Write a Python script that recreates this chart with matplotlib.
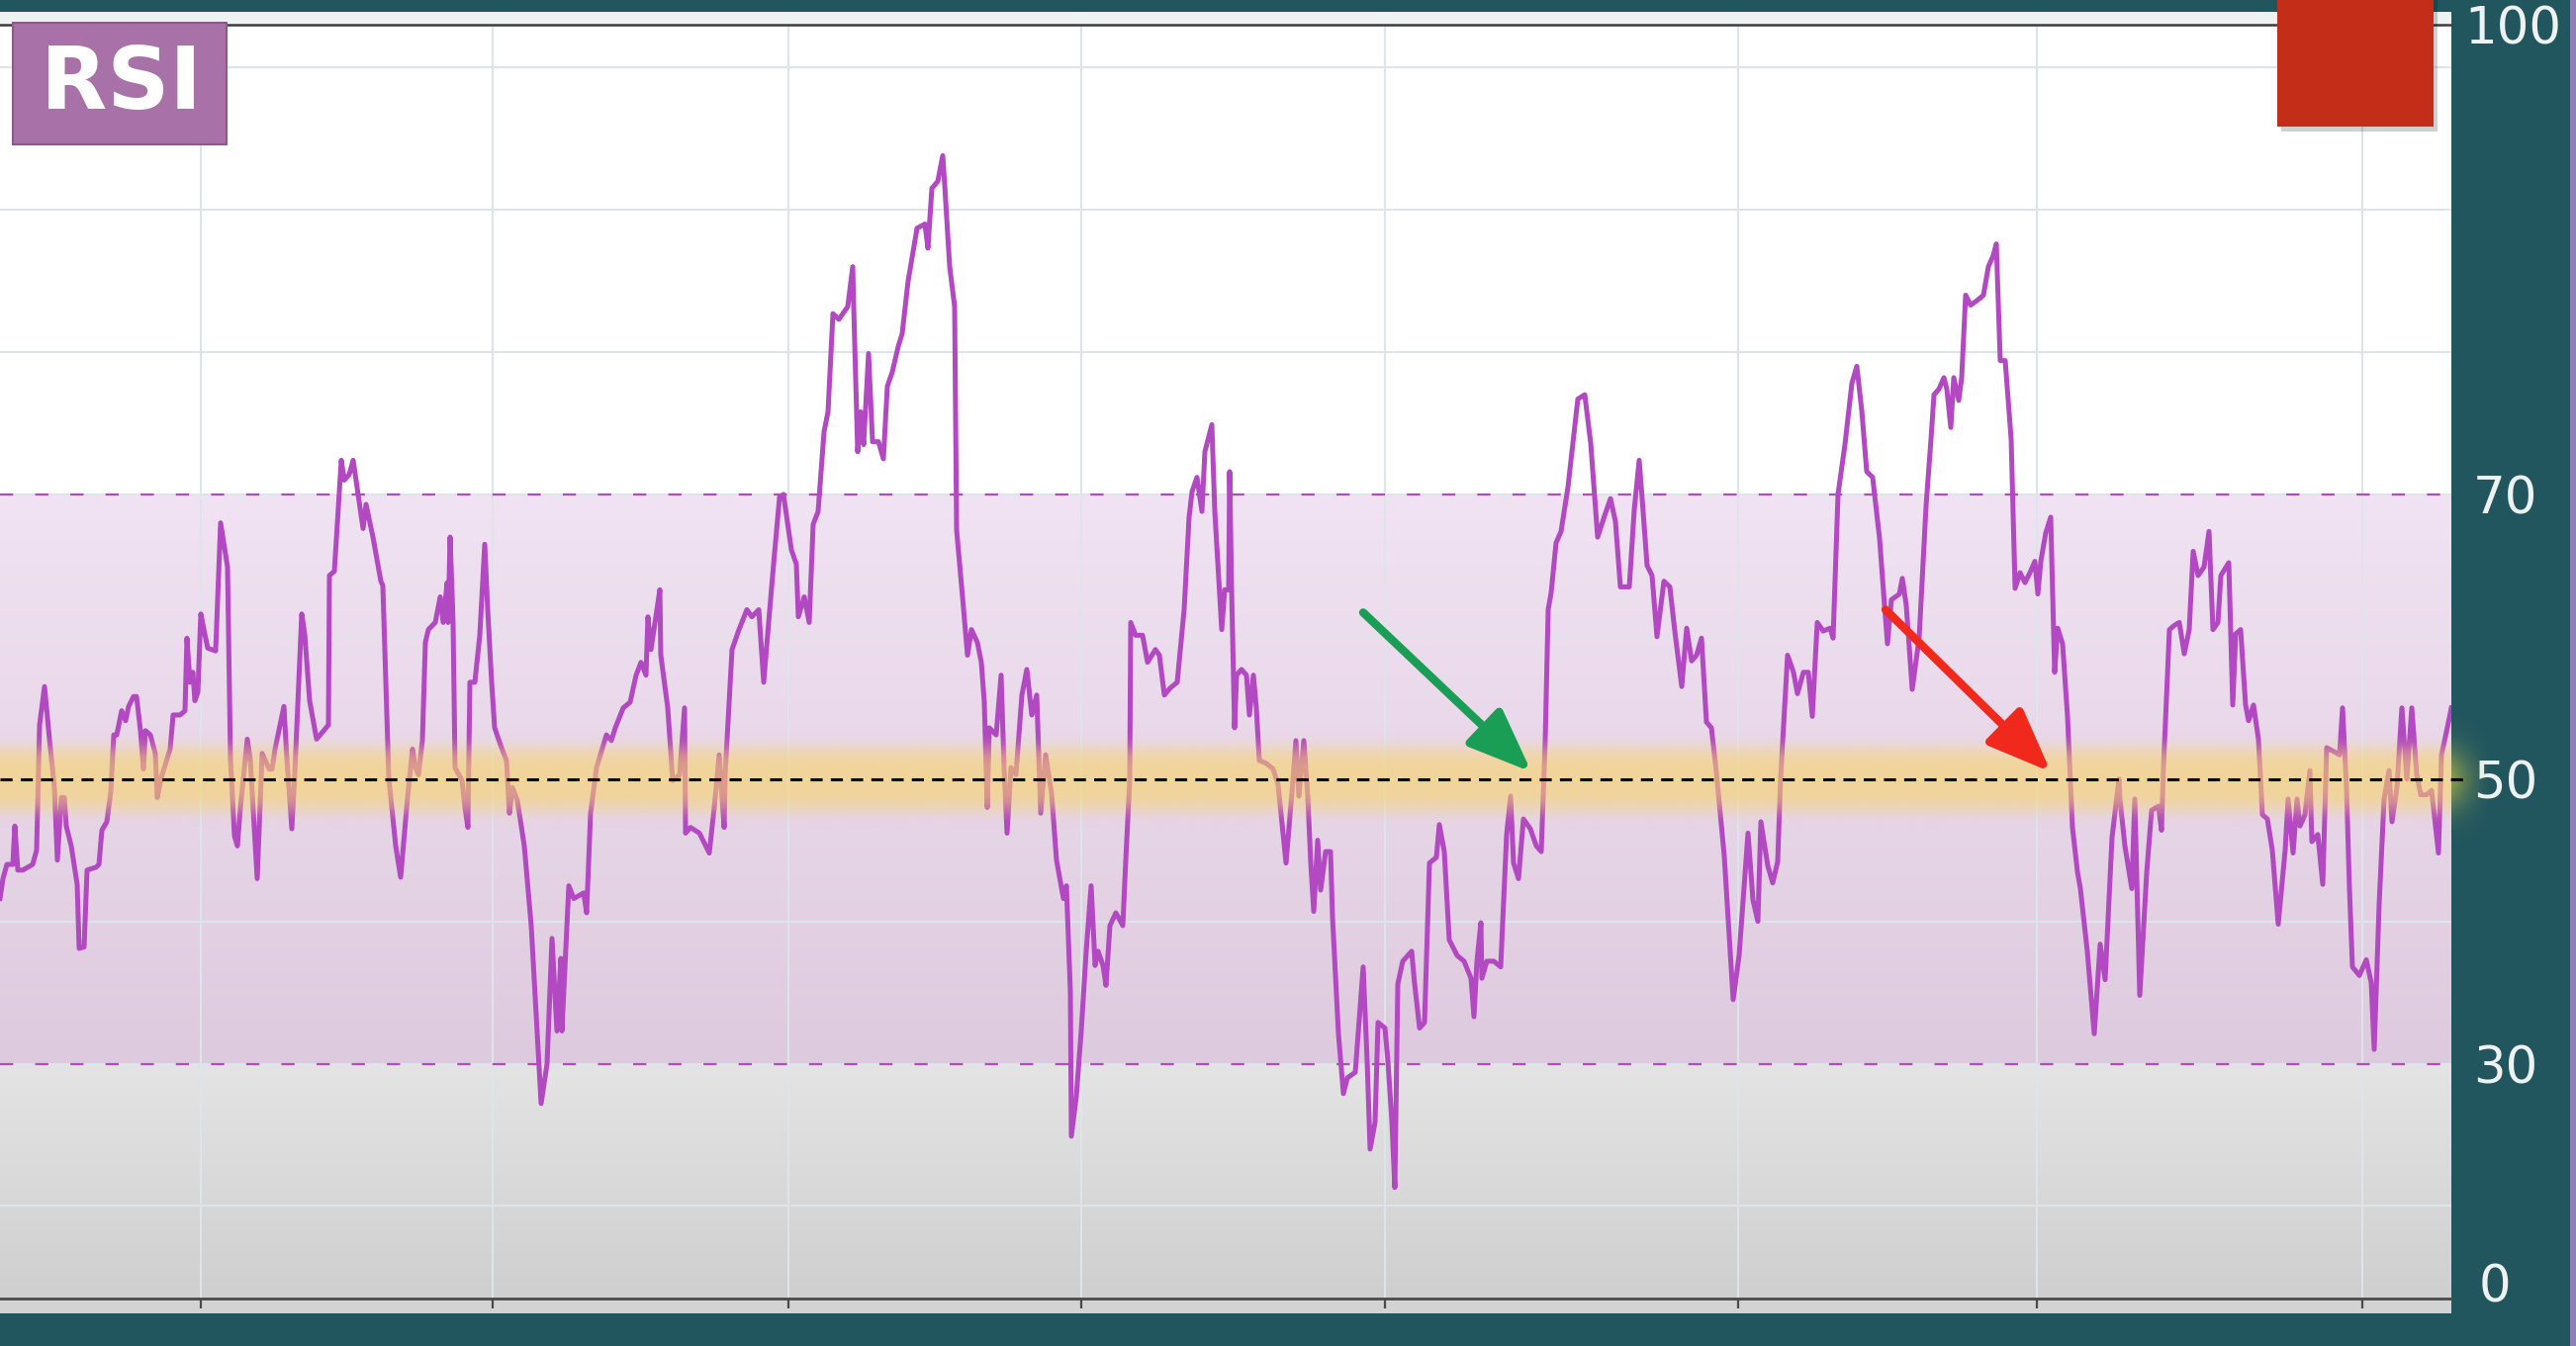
import numpy as np
import matplotlib.pyplot as plt
from matplotlib.patches import Rectangle
from matplotlib.colors import to_rgb

# RSI readings (x = bar position on the time axis, y = RSI value)
bar = [0, 3, 7, 13, 15, 18, 23, 33, 37, 40, 45, 50, 55, 58, 62, 65, 67, 72, 78, 80,
       85, 88, 97, 100, 103, 108, 112, 115, 118, 123, 127, 130, 135, 138, 142, 145, 147, 152, 157, 159,
       163, 172, 175, 182, 187, 189, 192, 195, 197, 200, 203, 207, 210, 218, 223, 230, 233, 237, 240, 243,
       250, 253, 260, 265, 272, 275, 278, 287, 290, 295, 298, 302, 305, 308, 313, 320, 332, 333, 338, 345,
       348, 353, 357, 362, 367, 370, 377, 385, 387, 393, 400, 405, 412, 417, 420, 423, 427, 430, 433, 440,
       445, 448, 452, 453, 455, 458, 460, 467, 470, 473, 475, 480, 485, 490, 493, 497, 500, 507, 512, 515,
       518, 523, 530, 537, 547, 553, 558, 563, 567, 568, 575, 580, 590, 593, 597, 603, 613, 618, 622, 630,
       637, 643, 648, 653, 655, 658, 663, 667, 668, 675, 680, 687, 692, 693, 698, 707, 717, 722, 727, 732,
       733, 740, 747, 755, 760, 767, 772, 777, 782, 788, 792, 800, 805, 807, 813, 818, 822, 827, 833, 837,
       842, 848, 857, 862, 863, 867, 870, 873, 878, 882, 888, 893, 897, 902, 908, 912, 918, 927, 935, 938,
       942, 948, 953, 955, 960, 965, 967, 973, 978, 982, 988, 992, 995, 998, 1000, 1007, 1012, 1015, 1018, 1022,
       1027, 1033, 1038, 1043, 1048, 1052, 1057, 1063, 1068, 1075, 1078, 1082, 1083, 1088, 1093, 1098, 1103, 1107, 1110, 1115,
       1118, 1122, 1128, 1135, 1138, 1142, 1143, 1148, 1155, 1160, 1168, 1172, 1177, 1183, 1190, 1197, 1202, 1205, 1210, 1215,
       1218, 1225, 1228, 1233, 1235, 1238, 1242, 1243, 1245, 1248, 1250, 1255, 1260, 1263, 1267, 1270, 1273, 1280, 1287, 1292,
       1300, 1307, 1310, 1313, 1318, 1322, 1325, 1328, 1332, 1335, 1340, 1345, 1347, 1353, 1358, 1362, 1370, 1378, 1382, 1385,
       1390, 1393, 1400, 1403, 1407, 1410, 1413, 1418, 1427, 1430, 1435, 1440, 1445, 1452, 1455, 1460, 1465, 1473, 1480, 1487,
       1490, 1493, 1497, 1498, 1503, 1510, 1517, 1523, 1527, 1530, 1535, 1540, 1547, 1553, 1558, 1562, 1565, 1568, 1573, 1578,
       1585, 1595, 1602, 1608, 1615, 1622, 1628, 1633, 1638, 1647, 1652, 1657, 1660, 1665, 1670, 1675, 1682, 1688, 1693, 1700,
       1705, 1710, 1715, 1720, 1725, 1730, 1735, 1743, 1752, 1758, 1767, 1772, 1777, 1780, 1787, 1792, 1797, 1800, 1807, 1813,
       1817, 1823, 1828, 1832, 1837, 1843, 1850, 1853, 1858, 1865, 1872, 1877, 1882, 1887, 1893, 1900, 1905, 1908, 1912, 1920,
       1923, 1927, 1933, 1940, 1947, 1952, 1955, 1960, 1965, 1968, 1972, 1975, 1980, 1983, 1987, 1992, 2000, 2005, 2010, 2015,
       2018, 2022, 2027, 2033, 2037, 2042, 2047, 2052, 2057, 2060, 2063, 2068, 2073, 2077, 2080, 2085, 2090, 2095, 2100, 2103,
       2110, 2117, 2123, 2128, 2135, 2142, 2143, 2148, 2155, 2158, 2163, 2170, 2175, 2182, 2185, 2187, 2193, 2198, 2203, 2208,
       2213, 2217, 2222, 2228, 2233, 2237, 2242, 2245, 2253, 2257, 2260, 2265, 2270, 2273, 2278, 2283, 2287, 2292, 2297, 2303,
       2310, 2313, 2318, 2322, 2325, 2330, 2335, 2337, 2343, 2348, 2352, 2360, 2365, 2368, 2372, 2375, 2378, 2385, 2392, 2397,
       2400, 2405, 2410, 2415, 2418, 2423, 2428, 2433, 2438, 2443, 2447, 2453, 2458, 2465, 2468, 2473, 2478]
rsi = [41.6, 43.0, 44.0, 44.0, 46.7, 43.6, 43.6, 44.0, 45.0, 53.8, 56.5, 52.8, 49.4, 44.3, 48.7, 48.7, 46.7, 45.3, 42.6, 38.1,
       38.2, 43.6, 43.8, 44.0, 46.4, 47.0, 49.1, 53.1, 53.1, 54.8, 54.1, 55.1, 55.8, 55.8, 53.4, 50.7, 53.4, 53.1, 51.8, 48.7,
       50.1, 52.1, 54.5, 54.5, 54.8, 59.9, 56.8, 57.5, 55.5, 56.1, 61.6, 60.2, 59.2, 59.0, 68.0, 64.9, 51.4, 46.0, 45.3, 48.0,
       52.8, 51.4, 43.0, 51.8, 50.7, 50.7, 52.1, 55.1, 51.4, 46.5, 50.4, 56.8, 61.6, 60.2, 55.5, 52.8, 53.8, 64.3, 64.6, 72.4,
       71.0, 71.4, 72.4, 70.0, 67.6, 69.3, 67.0, 63.9, 63.6, 50.1, 45.3, 43.1, 48.7, 52.1, 50.8, 50.3, 52.7, 59.6, 60.5, 61.0,
       62.8, 61.0, 63.8, 61.0, 67.0, 61.0, 50.8, 49.9, 48.0, 46.6, 56.8, 56.8, 60.1, 66.5, 61.9, 56.8, 53.6, 52.2, 51.3, 47.6,
       49.4, 48.5, 45.3, 39.7, 27.2, 30.0, 38.8, 32.3, 37.4, 32.3, 42.5, 41.6, 42.0, 40.6, 47.6, 50.8, 53.1, 52.7, 53.6, 55.0,
       55.4, 57.3, 58.2, 57.3, 61.4, 59.1, 61.4, 63.3, 58.7, 55.0, 49.9, 50.3, 55.0, 46.2, 46.6, 46.2, 44.8, 48.0, 51.7, 46.6,
       50.3, 59.1, 60.5, 61.9, 61.4, 61.9, 56.8, 61.0, 65.1, 69.8, 70.0, 66.1, 65.1, 61.4, 62.8, 61.0, 67.9, 68.8, 74.4, 75.8,
       82.7, 82.3, 83.2, 86.0, 83.2, 73.0, 75.8, 73.5, 79.9, 73.7, 73.7, 72.5, 77.6, 78.6, 80.4, 81.3, 85.0, 88.7, 89.0, 87.3,
       91.5, 92.0, 93.8, 91.7, 86.0, 83.2, 67.5, 62.8, 58.7, 60.5, 59.6, 58.2, 55.4, 48.0, 53.6, 53.1, 57.3, 50.8, 46.2, 50.8,
       50.3, 55.9, 57.7, 54.5, 55.9, 47.6, 51.7, 49.0, 44.3, 41.6, 42.5, 35.1, 24.9, 27.7, 32.3, 37.9, 42.5, 36.9, 37.9, 36.9,
       35.5, 39.7, 40.6, 39.7, 44.3, 49.9, 61.0, 60.1, 60.1, 58.2, 59.1, 58.7, 55.9, 56.4, 56.8, 61.9, 68.4, 70.2, 71.2, 68.8,
       73.0, 74.9, 68.8, 62.8, 60.5, 63.3, 63.3, 71.6, 63.3, 53.6, 57.3, 57.7, 57.3, 54.5, 57.3, 55.0, 51.3, 51.1, 50.7, 49.6,
       44.1, 49.9, 52.7, 48.8, 52.7, 48.8, 44.1, 40.7, 45.7, 42.2, 44.9, 44.9, 40.3, 32.1, 27.9, 29.0, 29.4, 36.8, 30.2, 24.0,
       25.9, 32.9, 32.5, 30.2, 25.9, 21.3, 35.6, 37.2, 37.9, 35.6, 32.5, 32.9, 44.1, 44.5, 46.8, 44.9, 38.7, 37.6, 37.2, 36.0,
       33.3, 37.2, 39.9, 36.0, 37.2, 37.2, 36.8, 46.1, 48.8, 44.1, 43.0, 47.2, 46.5, 45.3, 44.9, 52.7, 61.9, 63.1, 66.6, 67.4,
       70.5, 76.7, 77.0, 73.6, 67.0, 68.5, 69.7, 68.1, 63.5, 63.5, 68.9, 72.4, 69.7, 65.0, 64.3, 60.0, 63.9, 63.5, 60.4, 56.5,
       60.6, 58.3, 58.7, 59.9, 54.0, 53.6, 50.5, 44.6, 34.5, 37.6, 46.2, 41.5, 40.0, 47.0, 43.9, 42.7, 44.2, 50.1, 58.7, 57.5,
       56.0, 57.5, 57.5, 54.4, 61.0, 60.4, 60.6, 59.9, 70.0, 73.5, 77.8, 79.0, 75.9, 71.6, 71.2, 66.9, 62.2, 59.5, 62.6, 63.0,
       64.1, 62.2, 56.3, 59.9, 69.2, 73.9, 77.0, 77.4, 78.2, 77.4, 74.7, 78.2, 76.6, 78.2, 84.0, 83.3, 83.7, 84.0, 86.0, 86.8,
       87.6, 79.4, 79.4, 73.9, 63.4, 64.5, 63.8, 64.5, 65.3, 63.0, 65.3, 67.3, 68.4, 57.5, 60.6, 59.5, 54.4, 46.6, 43.5, 42.3,
       37.9, 32.1, 38.4, 35.9, 45.9, 50.0, 48.6, 45.3, 42.3, 48.6, 34.8, 43.4, 47.8, 48.1, 46.4, 50.8, 60.5, 60.8, 61.0, 58.8,
       60.5, 66.0, 64.3, 64.9, 67.4, 60.5, 61.0, 64.3, 65.2, 55.2, 60.2, 60.5, 55.2, 54.1, 55.2, 52.8, 47.5, 47.2, 45.0, 39.8,
       45.0, 48.6, 44.8, 48.6, 46.7, 47.5, 50.6, 45.6, 46.1, 42.6, 52.2, 51.9, 51.7, 55.0, 49.4, 42.3, 36.8, 36.2, 37.3, 35.7,
       31.0, 41.2, 48.6, 50.6, 47.0, 49.4, 55.0, 50.0, 55.0, 50.3, 48.9, 48.9, 49.2, 44.8, 51.7, 53.3, 55.0]

overbought, midline, oversold = 70, 50, 30
date_ticks = [203, 498, 797, 1093, 1400, 1757, 2059, 2388]
level_labels = ['30', '50', '70']

# arrows: (start bar, start rsi) -> (end bar, end rsi)
green_arrow = ((1378, 61.7), (1548, 50.5))
red_arrow = ((1906, 61.9), (2073, 50.5))

teal = '#22565f'
W, H = 2604, 1361


def vgrad(c_top, c_bot, n=256):
    t = np.linspace(0, 1, n)[:, None]
    a = np.array(to_rgb(c_top))
    b = np.array(to_rgb(c_bot))
    return (a * (1 - t) + b * t)[:, None, :]


fig = plt.figure(figsize=(W / 100, H / 100), dpi=100, facecolor=teal)

# light strips just outside the plot box
fig.add_artist(Rectangle((0, 1 - 1328 / H), 2478 / W, 16 / H, transform=fig.transFigure,
                         fc='#d3d3d3', ec='none', zorder=-1))
fig.add_artist(Rectangle((0, 1 - 26 / H), 2478 / W, 14 / H, transform=fig.transFigure,
                         fc='#eef2f2', ec='none', zorder=-1))

ax = fig.add_axes([0, 1 - 1313 / H, 2478 / W, (1313 - 25) / H])
ax.set_facecolor('white')

ylo, yhi = 13.5, 103.0
ax.imshow(vgrad('#f1e3f3', '#decade'), extent=[0, 2478, oversold, overbought], aspect='auto', zorder=0)
ax.imshow(vgrad('#e4e4e4', '#cfcfcf'), extent=[0, 2478, ylo, oversold], aspect='auto', zorder=0)

# yellow glow around the midline
gy = np.linspace(midline + 5, midline - 5, 240)
glow = np.zeros((240, 1, 4))
glow[:, 0, :3] = to_rgb('#f8d468')
glow[:, 0, 3] = 0.6 * np.exp(-((gy - midline) / 2.3) ** 4)
ax.imshow(glow, extent=[0, 2478, midline - 5, midline + 5], aspect='auto', zorder=3)
edge = np.zeros((240, 30, 4))
edge[:, :, :3] = to_rgb('#d8d040')
edge[:, :, 3] = (0.55 * np.exp(-((gy - midline) / 2.2) ** 2))[:, None] * np.linspace(1, 0, 30)[None, :] ** 1.5
ax.imshow(edge, extent=[2478, 2520, midline - 5, midline + 5], aspect='auto', zorder=3, clip_on=False)

ax.plot(bar, rsi, color='#b248c2', lw=3.6, zorder=2.5)

ax.axhline(overbought, color='#b04db8', lw=1.6, dashes=(6, 10), zorder=2)
ax.axhline(oversold, color='#b04db8', lw=1.6, dashes=(6, 10), zorder=2)
ax.plot([0, 2492], [midline, midline], color='black', lw=2.2, dashes=(4, 2.7), zorder=4, clip_on=False)

for (x0, y0), (x1, y1), col in [(green_arrow[0], green_arrow[1], '#1a9e55'),
                                 (red_arrow[0], red_arrow[1], '#f0291c')]:
    ax.annotate('', xy=(x1, y1), xytext=(x0, y0),
                arrowprops=dict(arrowstyle='-|>,head_length=0.65,head_width=0.26', color=col,
                                lw=6, mutation_scale=60, shrinkA=0, shrinkB=0), zorder=6)

ax.set_xlim(0, 2478)
ax.set_ylim(ylo, yhi)
ax.set_xticks(date_ticks)
ax.set_yticks(range(20, 101, 10))
ax.set_yticklabels([level_labels[(v - 30) // 20] if v in (30, 50, 70) else '' for v in range(20, 101, 10)])
ax.grid(True, color='#dde5ea', lw=1.5)
ax.set_axisbelow(True)
ax.yaxis.tick_right()
ax.tick_params(axis='y', length=0, pad=16, labelsize=37, labelcolor='#eef2f2')
ax.tick_params(axis='x', direction='out', length=7, width=1.6, color='#4a4a4a', labelbottom=False)
for s in ['left', 'right']:
    ax.spines[s].set_visible(False)
ax.spines['top'].set_color('#3c3c3c')
ax.spines['top'].set_linewidth(1.8)
ax.spines['bottom'].set_color('#4a4a4a')
ax.spines['bottom'].set_linewidth(2)

ax.text(2491, 102.6, '100', fontsize=37, color='#eef2f2', ha='left', va='center', clip_on=False)
ax.text(2506, 14.2, '0', fontsize=37, color='#eef2f2', ha='left', va='center', clip_on=False)

# RSI badge
fig.add_artist(Rectangle((13 / W, 1 - 146 / H), 216 / W, 123 / H, transform=fig.transFigure,
                         fc='#a872a8', ec='#8b5a8b', lw=1.5, zorder=5))
fig.text(122 / W, 1 - 86 / H, 'RSI', fontsize=63, fontweight='bold', color='white',
         ha='center', va='center', zorder=6)

# red square top right
fig.add_artist(Rectangle((2306 / W, 1 - 133 / H), 158 / W, 133 / H, transform=fig.transFigure,
                         fc='black', alpha=0.18, ec='none', zorder=4))
fig.add_artist(Rectangle((2302 / W, 1 - 128 / H), 158 / W, 128 / H, transform=fig.transFigure,
                         fc='#c42d18', ec='none', zorder=5))

# thin edge on the far right
fig.add_artist(Rectangle((2598 / W, 0), 6 / W, 1, transform=fig.transFigure,
                         fc='#8c80b4', ec='none', zorder=5))

fig.savefig('out.png', dpi=100, facecolor=teal)
